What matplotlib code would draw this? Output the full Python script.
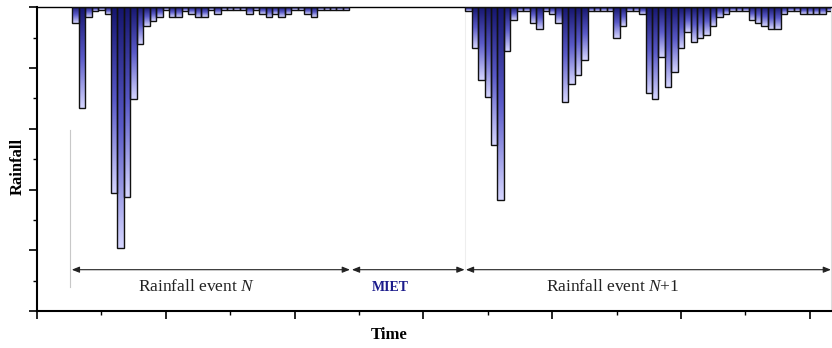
import numpy as np
import matplotlib
matplotlib.use("Agg")
import matplotlib.pyplot as plt
from matplotlib.colors import LinearSegmentedColormap
from matplotlib.ticker import MultipleLocator, NullFormatter

# ---- data ----
event_n_start = 0.6
event_n_values = [0.53, 3.32, 0.33, 0.12, 0.10, 0.22, 6.12, 7.93, 6.23, 3.03,
                  1.22, 0.62, 0.44, 0.31, 0.10, 0.31, 0.31, 0.13, 0.22, 0.31,
                  0.31, 0.10, 0.22, 0.10, 0.10, 0.10, 0.10, 0.22, 0.10, 0.22,
                  0.31, 0.22, 0.31, 0.22, 0.10, 0.10, 0.22, 0.31, 0.10, 0.10,
                  0.10, 0.10, 0.10]
event_n1_start = 6.7
event_n1_values = [0.12, 1.33, 2.41, 2.94, 4.53, 6.34, 1.43, 0.42, 0.12, 0.12,
                   0.53, 0.71, 0.12, 0.22, 0.53, 3.13, 2.52, 2.23, 1.73, 0.12,
                   0.12, 0.12, 0.12, 1.02, 0.62, 0.12, 0.12, 0.22, 2.83, 3.03,
                   1.65, 2.63, 2.12, 1.33, 0.82, 1.13, 1.02, 0.91, 0.62, 0.33,
                   0.22, 0.12, 0.12, 0.12, 0.42, 0.53, 0.62, 0.71, 0.71, 0.22,
                   0.12, 0.12, 0.22, 0.22, 0.22, 0.22, 0.12]
time_step = 0.1
labels = ["Rainfall event ", "MIET", "Rainfall event "]
event_n_span = (0.54, 4.86)
miet_span = (4.89, 6.64)
event_n1_span = (6.66, 12.33)

time_n = np.round(event_n_start + time_step * np.arange(len(event_n_values)), 2)
time_n1 = np.round(event_n1_start + time_step * np.arange(len(event_n1_values)), 2)

plt.rcParams['font.family'] = ['Liberation Serif', 'DejaVu Serif']
plt.rcParams['mathtext.fontset'] = 'custom'
plt.rcParams['mathtext.rm'] = 'Liberation Serif'
plt.rcParams['mathtext.it'] = 'Liberation Serif:italic'
plt.rcParams['mathtext.bf'] = 'Liberation Serif:bold'

fig = plt.figure(figsize=(8.32, 3.48), dpi=100)
ax = fig.add_axes([37/832, 37/348, (831-37)/832, (311-7.3)/348])

cmap = LinearSegmentedColormap.from_list("rain", ["#15156e", "#5a5ac8", "#d6d6ff"])
grad = np.linspace(0, 1, 256).reshape(-1, 1)

for t, v in [(time_n, event_n_values), (time_n1, event_n1_values)]:
    bars = ax.bar(t, v, width=time_step, bottom=0, facecolor="none",
                  edgecolor="#111111", linewidth=1.0, zorder=3, align="center")
    for b in bars:
        x0 = b.get_x(); w = b.get_width(); h = b.get_height()
        im = ax.imshow(grad, extent=(x0, x0 + w, h, 0), aspect="auto",
                       cmap=cmap, origin="upper", zorder=2, interpolation="bilinear")
        im.set_clip_path(b)

ax.set_xlim(0, 12.33)
ax.set_ylim(10, 0)

# spines and ticks
for s in ["left", "bottom"]:
    ax.spines[s].set_linewidth(1.5)
ax.spines["top"].set_linewidth(1.0)
ax.spines["right"].set_color("#dddddd")
ax.spines["right"].set_linewidth(0.8)
ax.xaxis.set_major_locator(MultipleLocator(2))
ax.xaxis.set_minor_locator(MultipleLocator(1))
ax.yaxis.set_major_locator(MultipleLocator(2))
ax.yaxis.set_minor_locator(MultipleLocator(1))
ax.xaxis.set_major_formatter(NullFormatter())
ax.yaxis.set_major_formatter(NullFormatter())
ax.tick_params(which="major", length=6, width=1.2, direction="out")
ax.tick_params(which="minor", length=3, width=1.0, direction="out")
ax.tick_params(top=False, right=False, which="both")

# guide lines
ax.plot([0.51, 0.51], [4.03, 9.2], color="#c8c8c8", lw=0.8, zorder=1)
ax.plot([6.65, 6.65], [0, 8.64], color="#eeeeee", lw=0.8, zorder=1)

# arrows
ya = 8.64
for (a, b) in [event_n_span, miet_span, event_n1_span]:
    ax.annotate("", xy=(b, ya), xytext=(a, ya),
                arrowprops=dict(arrowstyle="<|-|>,head_length=0.5,head_width=0.2",
                                color="#222222", lw=0.8,
                                mutation_scale=9, shrinkA=0, shrinkB=0))

yt = 9.22
ax.text(2.48, yt, labels[0] + r"$\mathit{N}$", ha="center", va="center", fontsize=12.5, color="#222222")
ax.text(5.48, yt, labels[1], ha="center", va="center", fontsize=10, fontweight="bold", color="#1c1c8c")
ax.text(8.94, yt, labels[2] + r"$\mathit{N}$+1", ha="center", va="center", fontsize=12.5, color="#222222")

fig.text(18/832, 1 - 166/348, "Rainfall", rotation=90, ha="center", va="center",
         fontsize=12, fontweight="bold")
fig.text(389/832, 1 - 335/348, "Time", ha="center", va="center",
         fontsize=12, fontweight="bold")

fig.savefig("out.png", dpi=100)
